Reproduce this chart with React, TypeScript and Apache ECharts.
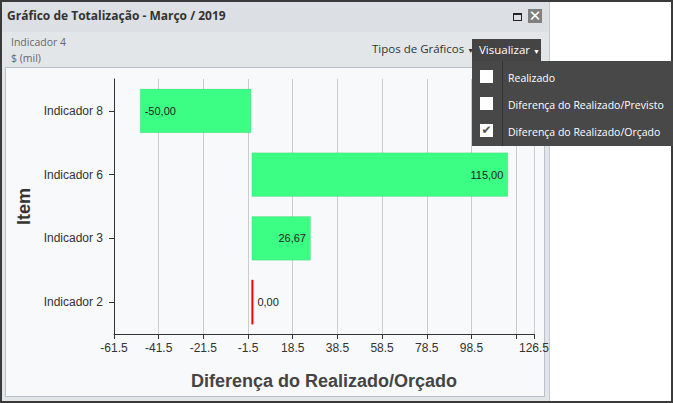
import React, { useEffect, useRef } from "react";
import * as echarts from "echarts";

const categories = ["Indicador 8", "Indicador 6", "Indicador 3", "Indicador 2"];
const values = [-50.0, 115.0, 26.67, 0.0];
const xMin = -61.5;
const xMax = 126.5;
const xInterval = 20;
const hiddenTickLabels = [118.5];
const menuItems = ["Realizado", "Diferença do Realizado/Previsto", "Diferença do Realizado/Orçado"];
const menuChecked = [false, false, true];

const fmt = (v: number) => v.toFixed(2).replace(".", ",");

export default function App() {
  const ref = useRef<HTMLDivElement>(null);

  useEffect(() => {
    if (!ref.current) return;
    const chart = echarts.init(ref.current, undefined, { renderer: "svg" });
    const data = values.map((v) => {
      if (v === 0) {
        return {
          value: v,
          itemStyle: { color: "#ff0000", borderWidth: 0 },
          label: { position: "right", distance: 4 },
        };
      }
      return {
        value: v,
        label: { position: v < 0 ? "insideLeft" : "insideRight", distance: 5 },
      };
    });
    chart.setOption({
      animation: false,
      textStyle: { fontFamily: "Liberation Sans, Arial, sans-serif" },
      grid: { left: 114, right: 139, top: 79, bottom: 69, containLabel: false },
      xAxis: {
        type: "value",
        min: xMin,
        max: xMax,
        interval: xInterval,
        name: "Diferença do Realizado/Orçado",
        nameLocation: "middle",
        nameGap: 38,
        nameTextStyle: { fontSize: 18, fontWeight: "bold", color: "#444" },
        axisLine: { show: true, onZero: false, lineStyle: { color: "#333" } },
        axisTick: { show: true, length: 5, lineStyle: { color: "#333" } },
        axisLabel: {
          color: "#333",
          fontSize: 12,
          margin: 8,
          formatter: (v: number) => (hiddenTickLabels.some((h) => Math.abs(h - v) < 1e-6) ? "" : String(v)),
        },
        splitLine: { show: true, lineStyle: { color: "#cccccc" } },
      },
      yAxis: {
        type: "category",
        inverse: true,
        data: categories,
        name: "Item",
        nameLocation: "middle",
        nameGap: 78,
        nameTextStyle: { fontSize: 18, fontWeight: "bold", color: "#333" },
        axisLine: { show: true, onZero: false, lineStyle: { color: "#333" } },
        axisTick: { show: true, alignWithLabel: true, length: 5, lineStyle: { color: "#333" } },
        axisLabel: { color: "#333", fontSize: 12, margin: 11 },
        splitLine: { show: false },
      },
      series: [
        {
          type: "bar",
          data,
          barWidth: "70%",
          barMinHeight: 2,
          itemStyle: { color: "#3dfe84", borderColor: "rgba(0,0,0,0.08)", borderWidth: 1 },
          label: { show: true, color: "#222", fontSize: 11, formatter: (p: any) => fmt(p.value) },
        },
      ],
    });
    return () => chart.dispose();
  }, []);

  const ui = "'Open Sans', 'Noto Sans', sans-serif";

  return (
    <div style={{ position: "fixed", left: 0, top: 0, width: 673, height: 403, background: "#fff", overflow: "hidden", fontFamily: ui }}>
      {/* outer frame */}
      <div style={{ position: "absolute", left: 0, top: 0, width: 673, height: 403, boxSizing: "border-box", border: "2px solid #3a3a3a" }} />
      {/* panel */}
      <div style={{ position: "absolute", left: 2, top: 2, width: 547, height: 399, background: "#e3e6e9", borderRight: "1px solid #c3c9cf" }} />
      <div style={{ position: "absolute", left: 2, top: 2, width: 547, height: 30, background: "#dcdfe4" }} />
      <div style={{ position: "absolute", left: 7, top: 7, fontSize: 12, fontWeight: 700, color: "#333", whiteSpace: "nowrap" }}>
        Gráfico de Totalização - Março / 2019
      </div>
      {/* maximize icon */}
      <div style={{ position: "absolute", left: 513, top: 13, width: 7, height: 5, border: "1.5px solid #222", borderTopWidth: 2.5 }} />
      {/* close box */}
      <div style={{ position: "absolute", left: 528, top: 9, width: 14, height: 14, background: "#808080", color: "#fff", fontSize: 15, fontWeight: 700, lineHeight: "14px", textAlign: "center", fontFamily: "'DejaVu Sans', sans-serif" }}>✕</div>
      {/* subheader */}
      <div style={{ position: "absolute", left: 11, top: 35, fontSize: 10.5, color: "#666", whiteSpace: "nowrap" }}>Indicador 4</div>
      <div style={{ position: "absolute", left: 11, top: 51, fontSize: 10.5, color: "#666", whiteSpace: "nowrap" }}>$ (mil)</div>
      <div style={{ position: "absolute", left: 372, top: 41, fontSize: 11.5, color: "#333", whiteSpace: "nowrap" }}>
        Tipos de Gráficos <span style={{ fontSize: 7 }}>▼</span>
      </div>
      {/* inner chart area */}
      <div style={{ position: "absolute", left: 5, top: 67, width: 540, height: 330, boxSizing: "border-box", border: "1px solid #b9c1ca", background: "#f8f9fa" }} />
      {/* chart */}
      <div ref={ref} style={{ position: "absolute", left: 0, top: 0, width: 673, height: 403 }} />
      {/* Visualizar button and menu */}
      <div style={{ position: "absolute", left: 472, top: 39, width: 69, height: 23, background: "#444", color: "#fff", fontSize: 11.5, lineHeight: "22px", paddingLeft: 7, boxSizing: "border-box", whiteSpace: "nowrap" }}>
        Visualizar <span style={{ fontSize: 7 }}>▼</span>
      </div>
      <div style={{ position: "absolute", left: 472, top: 61, width: 201, height: 85, background: "#484848" }}>
        <div style={{ position: "absolute", left: 30, top: 0, width: 1, height: 85, background: "#333" }} />
        {menuItems.map((m, i) => (
          <React.Fragment key={m}>
            <div style={{ position: "absolute", left: 8, top: 9 + i * 27, width: 13, height: 13, background: "#fff", color: "#555", fontSize: 12, lineHeight: "13px", textAlign: "center", fontFamily: "'DejaVu Sans', sans-serif" }}>
              {menuChecked[i] ? "✔" : ""}
            </div>
            <div style={{ position: "absolute", left: 36, top: 9 + i * 27, fontSize: 10.5, color: "#fff", whiteSpace: "nowrap", lineHeight: "16px" }}>{m}</div>
          </React.Fragment>
        ))}
      </div>
    </div>
  );
}
